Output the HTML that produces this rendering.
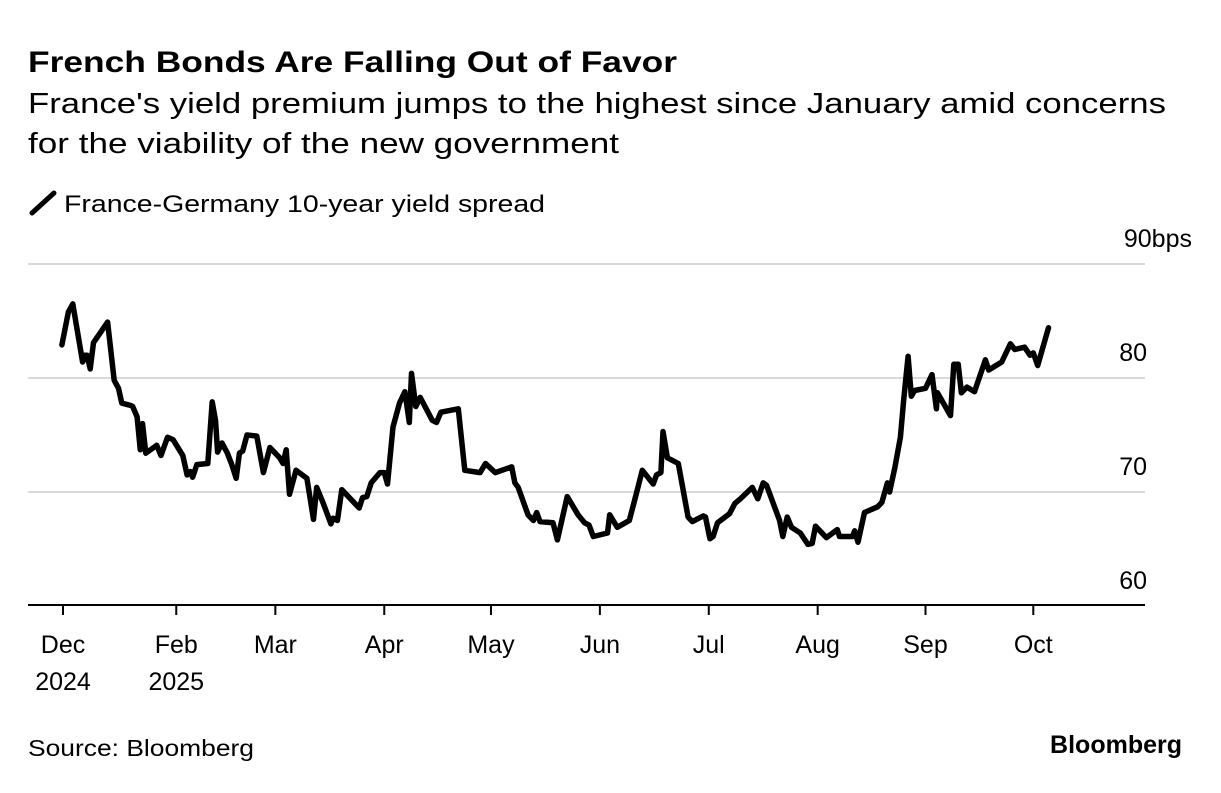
<!DOCTYPE html>
<html><head><meta charset="utf-8"><style>
body{margin:0;background:#fff;font-family:"Liberation Sans",sans-serif;}
svg text{font-family:"Liberation Sans",sans-serif;}
</style></head><body>
<svg width="1221" height="788" viewBox="0 0 1221 788" xmlns="http://www.w3.org/2000/svg">
<text x="28" y="72" font-size="30" font-weight="bold" fill="#000" textLength="649" lengthAdjust="spacingAndGlyphs">French Bonds Are Falling Out of Favor</text>
<text x="28" y="113" font-size="29" fill="#000" textLength="1138" lengthAdjust="spacingAndGlyphs">France's yield premium jumps to the highest since January amid concerns</text>
<text x="28" y="153" font-size="29" fill="#000" textLength="591" lengthAdjust="spacingAndGlyphs">for the viability of the new government</text>
<g>
<line x1="32" y1="213" x2="54" y2="193" stroke="#000" stroke-width="5" stroke-linecap="round"/>
<text x="64" y="212" font-size="24" fill="#000" textLength="481" lengthAdjust="spacingAndGlyphs">France-Germany 10-year yield spread</text>
</g>
<g id="grid"></g><g id="xaxis"></g>
<path id="line" fill="none" stroke="#000" stroke-width="5.5" stroke-linejoin="round" stroke-linecap="round"/>
<text x="28" y="756" font-size="23" fill="#000" textLength="226" lengthAdjust="spacingAndGlyphs">Source: Bloomberg</text>
<text x="1182" y="753" font-size="25" font-weight="bold" text-anchor="end" fill="#000">Bloomberg</text>
</svg>
<script>
const tMonths=[-0.01,0.05,0.09,0.18,0.20,0.22,0.25,0.28,0.41,0.47,0.51,0.54,0.62,0.64,0.68,0.71,0.73,0.76,0.86,0.90,0.96,1.01,1.10,1.14,1.17,1.19,1.23,1.33,1.37,1.40,1.42,1.46,1.51,1.55,1.59,1.62,1.65,1.69,1.78,1.84,1.90,1.99,2.02,2.05,2.08,2.14,2.24,2.30,2.33,2.39,2.46,2.48,2.52,2.56,2.72,2.75,2.79,2.83,2.91,2.95,2.98,3.03,3.09,3.14,3.18,3.20,3.24,3.28,3.39,3.43,3.47,3.63,3.69,3.83,3.88,3.97,4.06,4.12,4.15,4.18,4.27,4.32,4.35,4.38,4.50,4.54,4.63,4.73,4.79,4.83,4.87,5.00,5.02,5.09,5.20,5.25,5.32,5.42,5.45,5.49,5.51,5.55,5.65,5.74,5.78,5.88,5.90,5.94,5.97,6.01,6.12,6.17,6.22,6.33,6.38,6.43,6.46,6.58,6.61,6.65,6.69,6.77,6.84,6.88,6.91,7.01,7.11,7.13,7.25,7.27,7.30,7.36,7.48,7.52,7.57,7.59,7.64,7.69,7.72,7.76,7.79,7.82,7.92,7.98,8.02,8.03,8.15,8.18,8.22,8.25,8.30,8.37,8.47,8.50,8.62,8.70,8.74,8.83,8.88,8.91,8.95,9.05];
const spread=[82.9,85.8,86.5,81.4,82.0,82.0,80.8,83.1,84.9,79.8,79.1,77.8,77.6,77.5,76.6,73.7,76.0,73.4,74.1,73.2,74.8,74.6,73.2,71.5,71.8,71.3,72.4,72.5,77.9,76.3,73.5,74.3,73.4,72.4,71.2,73.4,73.6,75.0,74.9,71.7,73.9,73.0,72.5,73.7,69.8,71.9,71.2,67.6,70.4,69.0,67.2,67.7,67.5,70.2,68.6,69.5,69.6,70.8,71.7,71.7,70.7,75.7,77.8,78.8,76.1,80.4,77.5,78.3,76.3,76.1,77.0,77.3,71.9,71.7,72.5,71.7,72.0,72.2,70.8,70.4,68.0,67.5,68.2,67.4,67.3,65.8,69.6,68.0,67.3,67.1,66.1,66.4,68.0,66.9,67.5,69.3,71.9,70.7,71.5,71.7,75.3,73.0,72.5,67.8,67.4,67.9,67.8,65.9,66.1,67.3,68.1,69.0,69.4,70.4,69.4,70.8,70.6,67.5,66.1,67.8,66.9,66.4,65.4,65.5,67.0,66.0,66.7,66.1,66.1,66.6,65.6,68.2,68.7,69.1,70.8,70.0,72.2,74.8,78.1,81.9,78.4,78.9,79.1,80.3,77.3,78.7,76.7,81.2,81.2,78.7,79.2,78.8,81.6,80.7,81.4,83.0,82.5,82.7,82.0,82.2,81.1,84.4];
const yTicks=[60,70,80,90];
const yTickLabels=["60","70","80","90bps"];
const monthLabels=["Dec","Feb","Mar","Apr","May","Jun","Jul","Aug","Sep","Oct"];
const monthTicks=[0,1.04,1.95,2.95,3.93,4.93,5.93,6.93,7.92,8.91];
const yearLabels=["2024","2025","","","","","","","",""];
const NS="http://www.w3.org/2000/svg";
const x=t=>63+t*108.9;
const y=v=>606-(v-60)*11.4;
const grid=document.getElementById('grid'),xa=document.getElementById('xaxis');
function mk(tag,attrs,parent,txt){const e=document.createElementNS(NS,tag);for(const k in attrs)e.setAttribute(k,attrs[k]);if(txt!==undefined)e.textContent=txt;parent.appendChild(e);return e;}
yTicks.forEach((v,i)=>{
 if(i>0){const l=mk('line',{x1:28,x2:1145,y1:y(v),y2:y(v),stroke:'#d9d9d9','stroke-width':2},grid);
 
 }
 const t=mk('text',{x:1147,y:y(v)-17,'font-size':25,'text-anchor':'end',fill:'#000'},grid,yTickLabels[i]);
 if(i==3){t.setAttribute('x',1192);}
 
 
});
const base=mk('line',{x1:28,x2:1145,y1:605,y2:605,stroke:'#000','stroke-width':2},xa);


monthLabels.forEach((m,i)=>{
 const tx=x(monthTicks[i]);
 const tk=mk('line',{x1:tx,x2:tx,y1:605,y2:615,stroke:'#000','stroke-width':2},xa);
 
 
 const t=mk('text',{x:tx,y:653,'font-size':25,'text-anchor':'middle',fill:'#000'},xa,m);
 
 
 if(yearLabels[i]){const yr=mk('text',{x:tx,y:690,'font-size':25,'text-anchor':'middle',fill:'#000'},xa,yearLabels[i]);
 
 }
});
document.getElementById('line').setAttribute('d',tMonths.map((t,i)=>(i?'L':'M')+x(t).toFixed(1)+' '+y(spread[i]).toFixed(1)).join(' '));
</script>
</body></html>
